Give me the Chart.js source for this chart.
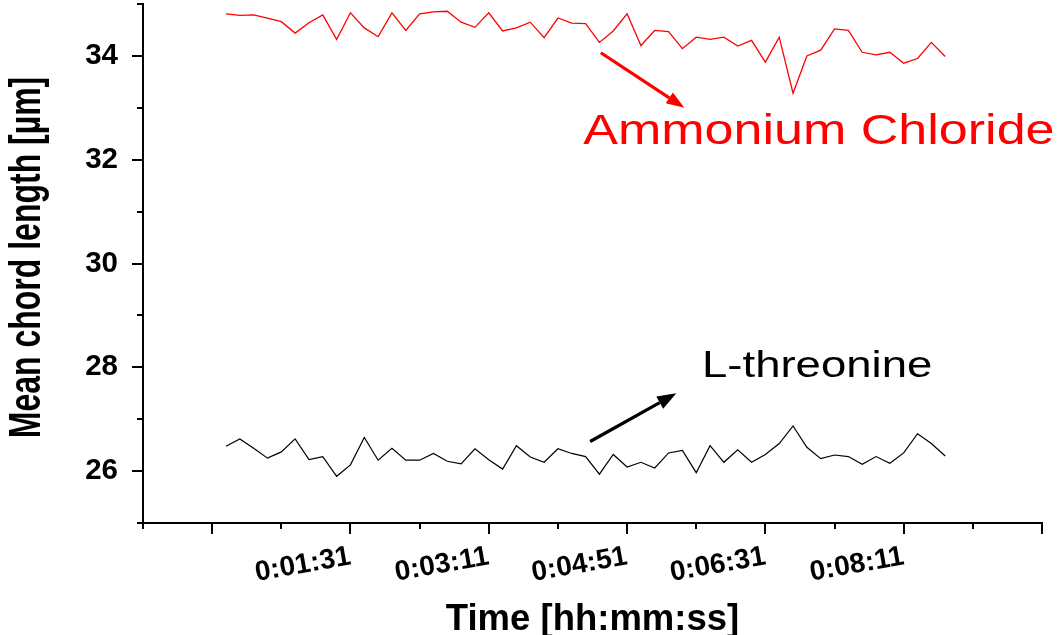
<!DOCTYPE html>
<html>
<head>
<meta charset="utf-8">
<script src="https://cdn.jsdelivr.net/npm/chart.js@4.4.1/dist/chart.umd.min.js"></script>
<style>
  html, body { margin: 0; padding: 0; background: #fff; }
  #wrap { width: 1058px; height: 635px; position: relative; }
</style>
</head>
<body>
<div id="wrap"><canvas id="mclChart"></canvas></div>
<script>
// sample times in seconds
const times = [
    1, 11, 21, 31, 41, 51, 61, 71, 81, 91,
    101, 111, 121, 131, 141, 151, 161, 171, 181, 191,
    201, 211, 221, 231, 241, 251, 261, 271, 281, 291,
    301, 311, 321, 331, 341, 351, 361, 371, 381, 391,
    401, 411, 421, 431, 441, 451, 461, 471, 481, 491,
    501, 511, 521
];

// mean chord length in µm
const ammoniumChloride = [
    34.81, 34.78, 34.79, 34.73, 34.66, 34.44, 34.64, 34.79, 34.32, 34.83,
    34.54, 34.37, 34.83, 34.49, 34.81, 34.85, 34.86, 34.65, 34.55, 34.83,
    34.48, 34.54, 34.65, 34.35, 34.73, 34.63, 34.62, 34.26, 34.48, 34.81,
    34.20, 34.49, 34.47, 34.14, 34.36, 34.32, 34.36, 34.19, 34.30, 33.88,
    34.36, 33.28, 34.00, 34.11, 34.52, 34.49, 34.07, 34.02, 34.07, 33.86,
    33.95, 34.26, 33.99
];
const lThreonine = [
    26.48, 26.62, 26.44, 26.25, 26.37, 26.62, 26.22, 26.28, 25.90, 26.12,
    26.65, 26.21, 26.44, 26.21, 26.21, 26.34, 26.19, 26.14, 26.43, 26.22,
    26.04, 26.49, 26.27, 26.17, 26.43, 26.34, 26.28, 25.94, 26.32, 26.08,
    26.17, 26.06, 26.35, 26.40, 25.97, 26.49, 26.17, 26.41, 26.17, 26.32,
    26.53, 26.87, 26.46, 26.24, 26.31, 26.28, 26.13, 26.28, 26.15, 26.35,
    26.72, 26.53, 26.29
];

// x axis: major ticks (seconds) and their labels
const majorTicks = [-9, 91, 191, 291, 391, 491, 591];
const tickLabels = ['', '0:01:31', '0:03:11', '0:04:51', '0:06:31', '0:08:11', ''];

// callouts, in data units: [x, y]
const redArrow = [[272, 34.06], [332.4, 33.0]];
const blackArrow = [[264.3, 26.57], [326.6, 27.50]];
const redLabelAt = [259.3, 32.30];
const blackLabelAt = [345.2, 27.81];

const FONT = '"Liberation Sans", Arial, sans-serif';

function drawArrow(ctx, x1, y1, x2, y2, color, headLen, headHalf) {
    const ang = Math.atan2(y2 - y1, x2 - x1);
    const bx = x2 - headLen * Math.cos(ang);
    const by = y2 - headLen * Math.sin(ang);
    ctx.strokeStyle = color;
    ctx.fillStyle = color;
    ctx.lineWidth = 3.2;
    ctx.beginPath();
    ctx.moveTo(x1, y1);
    ctx.lineTo(bx, by);
    ctx.stroke();
    ctx.beginPath();
    ctx.moveTo(x2, y2);
    ctx.lineTo(bx + headHalf * Math.sin(ang), by - headHalf * Math.cos(ang));
    ctx.lineTo(bx - headHalf * Math.sin(ang), by + headHalf * Math.cos(ang));
    ctx.closePath();
    ctx.fill();
}

// outward tick marks (long on majors, short on minors) and the y title
const axisDecor = {
    id: 'axisDecor',
    afterDraw(chart) {
        const { ctx, chartArea, scales: { x, y } } = chart;
        ctx.save();
        ctx.strokeStyle = '#000';
        ctx.lineWidth = 2;
        ctx.beginPath();
        y.ticks.forEach(t => {
            const py = Math.round(y.getPixelForValue(t.value));
            const len = t.value % 2 === 0 ? 11 : 6;
            ctx.moveTo(chartArea.left, py);
            ctx.lineTo(chartArea.left - len, py);
        });
        majorTicks.forEach(v => {
            const px = Math.round(x.getPixelForValue(v));
            ctx.moveTo(px, chartArea.bottom);
            ctx.lineTo(px, chartArea.bottom + 11);
            const mx = Math.round(x.getPixelForValue(v - 50));
            ctx.moveTo(mx, chartArea.bottom);
            ctx.lineTo(mx, chartArea.bottom + 6);
        });
        ctx.stroke();

        // rotated axis title, glyphs drawn a bit taller than normal
        ctx.translate(40, (chartArea.top + chartArea.bottom) / 2 - 6);
        ctx.rotate(-Math.PI / 2);
        ctx.scale(1, 1.4);
        ctx.font = 'bold 32px ' + FONT;
        ctx.fillStyle = '#000';
        ctx.textAlign = 'center';
        ctx.textBaseline = 'alphabetic';
        ctx.fillText('Mean chord length [µm]', 0, 0);
        ctx.restore();
    }
};

const callouts = {
    id: 'callouts',
    afterDatasetsDraw(chart) {
        const { ctx, scales: { x, y } } = chart;
        ctx.save();
        drawArrow(ctx,
            x.getPixelForValue(redArrow[0][0]), y.getPixelForValue(redArrow[0][1]),
            x.getPixelForValue(redArrow[1][0]), y.getPixelForValue(redArrow[1][1]),
            '#ff0000', 18, 6.5);
        drawArrow(ctx,
            x.getPixelForValue(blackArrow[0][0]), y.getPixelForValue(blackArrow[0][1]),
            x.getPixelForValue(blackArrow[1][0]), y.getPixelForValue(blackArrow[1][1]),
            '#000000', 19, 7);

        ctx.textBaseline = 'alphabetic';
        ctx.textAlign = 'left';

        ctx.save();
        ctx.translate(x.getPixelForValue(redLabelAt[0]), y.getPixelForValue(redLabelAt[1]));
        ctx.scale(1.21, 1);
        ctx.font = '43px ' + FONT;
        ctx.fillStyle = '#ff0000';
        ctx.fillText('Ammonium Chloride', 0, 0);
        ctx.restore();

        ctx.save();
        ctx.translate(x.getPixelForValue(blackLabelAt[0]), y.getPixelForValue(blackLabelAt[1]));
        ctx.scale(1.23, 1);
        ctx.font = '37px ' + FONT;
        ctx.fillStyle = '#000';
        ctx.fillText('L-threonine', 0, 0);
        ctx.restore();

        ctx.restore();
    }
};

const ctx1 = document.getElementById('mclChart').getContext('2d');
const mclChart = new Chart(ctx1, {
    type: 'line',
    data: {
        datasets: [{
            label: 'Ammonium Chloride',
            data: times.map((t, i) => ({ x: t, y: ammoniumChloride[i] })),
            borderColor: '#ff0000',
            borderWidth: 1.3,
            pointRadius: 0,
            tension: 0
        }, {
            label: 'L-threonine',
            data: times.map((t, i) => ({ x: t, y: lThreonine[i] })),
            borderColor: '#000000',
            borderWidth: 1.2,
            pointRadius: 0,
            tension: 0
        }]
    },
    options: {
        responsive: true,
        maintainAspectRatio: false,
        animation: false,
        layout: {
            padding: { top: 4, right: 16, left: 0, bottom: 0 }
        },
        plugins: {
            legend: { display: false },
            tooltip: { enabled: false }
        },
        scales: {
            x: {
                type: 'linear',
                min: -59,
                max: 591,
                afterBuildTicks: scale => {
                    scale.ticks = majorTicks.map(v => ({ value: v }));
                },
                afterFit: scale => {
                    scale.height = 112;
                    scale.paddingLeft = 0;
                    scale.paddingRight = 0;
                },
                grid: { display: false, drawTicks: false },
                border: { display: true, color: '#000', width: 2 },
                ticks: {
                    autoSkip: false,
                    minRotation: 10,
                    maxRotation: 10,
                    padding: 17,
                    color: '#000',
                    font: { family: FONT, size: 28, weight: 'bold' },
                    callback: (value, index) => tickLabels[index]
                },
                title: {
                    display: true,
                    text: 'Time [hh:mm:ss]',
                    color: '#000',
                    padding: 0,
                    font: { family: FONT, size: 36.5, weight: 'bold', lineHeight: 0.82 }
                }
            },
            y: {
                min: 25,
                max: 35,
                afterFit: scale => {
                    scale.width = 143;
                    scale.paddingTop = 0;
                    scale.paddingBottom = 0;
                },
                grid: { display: false, drawTicks: false },
                border: { display: true, color: '#000', width: 2 },
                ticks: {
                    stepSize: 1,
                    autoSkip: false,
                    padding: 25,
                    color: '#000',
                    font: { family: FONT, size: 29.5, weight: 'bold' },
                    callback: value => (value % 2 === 0 ? value : '')
                }
            }
        }
    },
    plugins: [axisDecor, callouts]
});
</script>
</body>
</html>
